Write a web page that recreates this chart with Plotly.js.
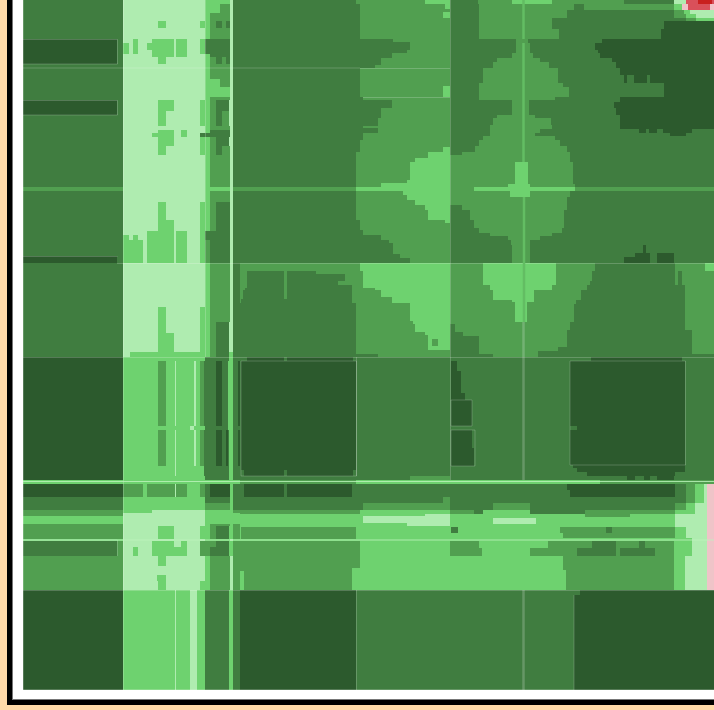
<!DOCTYPE html>
<html><head><meta charset="utf-8">
<script src="https://cdn.plot.ly/plotly-3.0.1.min.js"></script>
<style>
html,body{margin:0;padding:0;width:714px;height:710px;overflow:hidden;background:#ffdaa9}
#frame{position:absolute;left:12px;top:-20px;width:800px;height:720px;background:#fff;border:1px solid #777;box-sizing:border-box;box-shadow:-5px 5px 0 #000}
#plot{position:absolute;left:23px;top:0;width:691px;height:690px}
</style></head><body>
<div id="frame"></div><div id="plot"></div>
<script>
var levelColors = ["#2c5a2d","#407d40","#519f50","#6ed26f","#afecb0","#efc4c8","#d9505a","#c9201f"];

// Each band: bottom of the band, then "end of run : level" reading left to right.
var leftBands = [
[4,"123:1 205:4 230:3 233:4 240:1"],
[13,"123:1 205:4 220:3 230:2 233:4 240:1"],
[21,"123:1 205:4 210:3 230:2 233:4 240:1"],
[28,"123:1 158:4 166:3 200:4 210:3 216:2 222:1 226:2 230:1 233:4 240:1"],
[39,"123:1 205:4 210:3 230:2 233:4 240:1"],
[43,"117:0 123:1 133:4 138:3 152:4 174:3 176:4 187:3 200:4 205:3 230:1 233:4 240:1"],
[50,"117:0 123:1 129:3 133:4 138:3 147:4 174:3 176:4 187:3 200:4 205:3 230:1 233:4 240:1"],
[54,"117:0 123:1 129:3 133:4 138:3 152:4 174:3 176:4 187:3 200:4 205:3 230:1 233:4 240:1"],
[57,"117:0 123:1 152:4 174:3 176:4 187:3 205:4 210:3 230:1 233:4 240:1"],
[64,"117:0 123:1 158:4 166:3 205:4 210:3 216:2 222:1 226:2 230:1 233:4 240:1"],
[79,"123:1 205:4 210:3 230:2 233:4 240:1"],
[87,"123:1 205:4 220:3 230:2 233:4 240:1"],
[97,"123:1 205:4 230:3 233:4 240:1"],
[100,"123:1 205:4 210:3 230:2 233:4 240:1"],
[111,"117:0 123:1 158:4 174:3 200:4 210:3 216:2 229:1 233:4 240:1"],
[115,"117:0 123:1 158:4 166:3 200:4 210:3 216:2 222:1 229:2 233:4 240:1"],
[126,"123:1 158:4 166:3 200:4 210:3 216:2 222:1 229:2 233:4 240:1"],
[130,"123:1 205:4 210:3 230:2 233:4 240:1"],
[133,"123:1 158:4 174:3 181:4 187:3 205:4 210:3 230:1 233:4 240:1"],
[137,"123:1 152:4 174:3 181:4 187:3 200:4 210:1 230:1 233:4 240:1"],
[146,"123:1 158:4 174:3 200:4 210:3 216:2 229:1 233:4 240:1"],
[155,"123:1 158:4 166:3 200:4 210:3 216:2 222:1 230:2 233:4 240:1"],
[187,"123:1 205:4 210:3 230:2 233:4 240:1"],
[191,"123:2 205:4 230:3 233:4 240:2"],
[202,"123:1 205:4 210:3 230:2 233:4 240:1"],
[220,"123:1 158:4 166:3 200:4 210:3 216:2 230:1 233:4 240:1"],
[231,"123:1 158:4 174:3 200:4 210:3 216:2 230:1 233:4 240:1"],
[235,"123:1 147:4 174:3 176:4 187:3 200:4 205:3 230:1 233:4 240:1"],
[240,"123:1 129:3 133:4 138:3 147:4 174:3 176:4 187:3 200:4 205:3 230:1 233:4 240:1"],
[256,"123:1 143:3 147:4 174:3 176:4 187:3 200:4 205:3 210:2 230:1 233:4 240:1"],
[263,"117:0 123:1 143:3 147:4 174:3 176:4 187:3 200:4 205:3 210:2 230:1 233:4 240:1"],
[285,"123:1 205:4 210:3 230:2 233:4 240:1"],
[307,"123:1 205:4 210:3 230:2 233:4 240:1"],
[322,"123:1 158:4 166:3 200:4 210:3 230:2 233:4 240:1"],
[333,"123:1 158:4 166:3 200:4 210:3 216:2 229:1 233:4 240:1"],
[352,"123:1 158:4 174:3 200:4 210:3 216:2 229:1 233:4 240:1"],
[357,"123:1 130:4 205:3 210:3 216:2 229:1 233:3 240:1"],
[361,"123:0 205:3 229:1 233:3 240:1"],
[426,"123:0 158:3 166:2 175:3 176:4 194:3 196:4 200:3 204:2 216:1 222:0 228:1 233:3 238:1 240:0"],
[430,"123:0 190:3 194:4 205:3 216:1 228:1 233:3 240:1"],
[466,"123:0 158:3 166:2 175:3 176:4 194:3 196:4 200:3 204:2 216:1 222:0 226:1 228:0 229:1 233:3 238:1 240:0"],
[476,"123:0 175:3 176:4 190:3 196:3 204:3 229:1 233:3 240:1"],
[480,"123:0 205:3 229:1 233:3 240:1"],
[484,"205:3 240:3"],
[497,"123:0 143:2 147:3 175:2 176:4 187:2 200:3 205:2 210:1 230:0 233:3 240:1"],
[503,"123:1 205:3 210:1 230:1 233:3 240:1"],
[510,"123:1 205:3 230:2 233:3 240:1"],
[513,"123:2 152:3 205:4 230:3 233:3 240:2"],
[516,"123:2 205:4 230:3 233:3 240:3"],
[524,"123:3 205:4 230:3 233:3 240:3"],
[526,"123:2 205:4 210:3 230:2 233:3 240:2"],
[539,"123:2 158:4 174:3 200:4 210:3 216:2 229:1 233:3 240:2"],
[541,"123:3 205:4 230:3 233:4 240:3"],
[547,"117:1 123:2 133:4 138:4 152:4 174:3 176:4 181:4 187:3 200:4 210:2 216:2 229:1 233:3 240:2"],
[556,"117:1 123:2 133:4 138:3 152:4 174:3 176:3 187:3 200:4 210:2 216:1 229:1 233:3 240:2"],
[566,"123:2 158:4 166:3 205:4 210:3 230:2 233:4 240:2"],
[575,"123:2 205:4 210:3 230:2 233:4 240:2"],
[581,"123:2 157:4 166:3 205:4 210:3 230:2 233:4 240:2"],
[590,"123:2 158:4 166:3 200:4 205:3 210:3 230:2 233:4 240:2"],
[690,"123:0 175:3 176:4 190:3 197:4 205:3 229:1 233:3 240:1"]
];

var midBands = [
[4,"356:1 425:2 450:3 474:1"],
[9,"360:1 445:2 450:3 474:1"],
[12,"360:1 450:2 474:1"],
[18,"360:1 443:2 450:3 474:1"],
[39,"360:1 450:2 474:1"],
[42,"393:1 450:2 474:1"],
[50,"410:1 450:2 474:1"],
[53,"407:1 450:2 474:1"],
[58,"392:1 450:2 474:1"],
[65,"381:1 450:2 474:1"],
[68,"375:1 450:2 474:1"],
[86,"360:1 450:2 474:1"],
[97,"360:1 443:2 450:3 474:1"],
[100,"363:1 450:2 474:1"],
[108,"392:1 450:2 474:1"],
[118,"381:1 450:2 474:1"],
[126,"378:1 450:2 474:1"],
[128,"363:1 450:2 474:1"],
[133,"378:1 450:2 474:1"],
[140,"363:1 450:2 474:1"],
[147,"360:1 450:2 474:1"],
[152,"360:1 443:2 450:3 474:1"],
[155,"356:1 428:2 450:3 462:1 474:2"],
[158,"356:1 428:2 450:3 474:2"],
[162,"356:1 415:2 450:3 474:2"],
[180,"356:1 410:2 450:3 474:2"],
[183,"356:1 407:2 450:3 474:2"],
[187,"356:1 381:2 450:3 474:2"],
[191,"356:2 450:3 474:2"],
[195,"356:1 403:2 450:3 474:2"],
[200,"356:1 407:2 450:3 474:2"],
[205,"356:1 415:2 450:3 474:2"],
[210,"356:1 425:2 450:3 462:1 474:2"],
[220,"356:1 428:2 450:3 470:1 474:2"],
[223,"360:1 445:2 450:3 474:1"],
[230,"360:1 450:2 474:1"],
[235,"363:1 450:2 474:1"],
[240,"381:1 450:2 474:1"],
[243,"389:1 450:2 474:1"],
[254,"393:1 450:2 474:1"],
[258,"400:1 450:2 474:1"],
[263,"410:1 450:2 474:1"],
[271,"360:2 450:3 474:2"],
[274,"247:2 284:1 287:2 316:1 363:2 450:3 474:2"],
[281,"247:2 284:1 287:2 345:1 363:2 450:3 474:2"],
[285,"247:2 284:1 287:2 338:1 363:2 450:3 474:2"],
[288,"247:2 284:1 287:2 352:1 363:2 450:3 474:2"],
[290,"245:2 284:1 287:2 352:1 375:2 450:3 474:2"],
[297,"243:2 284:1 287:2 352:1 381:2 450:3 474:2"],
[299,"243:2 284:1 287:2 352:1 392:2 450:3 474:2"],
[303,"241:2 352:1 392:2 450:3 474:2"],
[321,"356:1 410:2 450:3 474:2"],
[324,"356:1 413:2 450:3 474:2"],
[332,"356:1 415:2 450:3 455:1 474:2"],
[335,"356:1 425:2 450:3 463:1 474:2"],
[336,"356:1 428:2 450:3 463:1 474:2"],
[339,"356:1 428:2 450:3 474:1"],
[346,"356:1 428:2 432:3 438:2 450:3 474:1"],
[350,"356:1 428:2 450:3 474:1"],
[354,"356:1 450:2 474:1"],
[357,"378:1 450:2 474:1"],
[361,"247:1 284:0 287:1 353:0 474:1"],
[371,"241:1 356:0 451:1 457:0 474:1"],
[393,"241:1 356:0 451:1 461:0 474:1"],
[400,"241:1 356:0 451:1 465:0 474:1"],
[426,"241:1 356:0 451:1 472:0 474:1"],
[430,"241:1 356:0 474:1"],
[448,"241:1 356:0 451:1 472:0 474:1"],
[466,"241:1 356:0 451:1 474:0"],
[470,"241:1 356:0 474:1"],
[476,"244:1 284:0 287:1 353:0 474:1"],
[480,"410:1 450:2 474:1"],
[484,"356:2 381:3 450:3 474:3"],
[497,"244:1 284:0 287:1 352:0 474:1"],
[503,"443:1 450:2 474:1"],
[510,"363:1 450:2 474:1"],
[514,"360:2 450:3 474:2"],
[516,"360:3 425:3 450:4 474:3"],
[523,"363:3 450:4 474:3"],
[526,"407:3 450:4 474:3"],
[527,"474:3"],
[533,"241:3 356:2 451:3 458:1 474:3"],
[539,"241:3 356:2 474:3"],
[541,"474:3"],
[556,"360:2 450:3 474:2"],
[568,"244:2 360:2 474:3"],
[571,"352:2 474:3"],
[590,"244:3 352:2 474:3"],
[690,"356:0 474:1"]
];

var rightBands = [
[4,"478:1 512:2 552:3 624:2 674:1 686:4 698:6 712:7 714:6"],
[10,"479:1 574:2 584:1 587:2 674:2 682:3 688:5 710:6 714:5"],
[14,"479:1 567:2 674:1 684:2 690:3 714:4"],
[18,"479:1 567:2 674:1 686:2 696:3 714:4"],
[21,"479:1 552:2 686:1 696:2 714:3"],
[29,"479:1 552:2 664:1 714:0"],
[39,"479:1 559:2 661:1 714:0"],
[43,"516:1 528:2 602:1 714:0"],
[50,"516:1 530:2 595:1 714:0"],
[53,"516:1 530:2 598:1 714:0"],
[58,"512:1 533:2 600:1 714:0"],
[62,"497:1 540:2 612:1 714:0"],
[68,"493:1 549:2 616:1 714:0"],
[75,"483:1 558:2 620:1 714:0"],
[83,"483:1 558:2 624:1 627:0 634:1 647:0 650:1 714:0"],
[87,"479:1 563:2 664:1 714:0"],
[97,"479:1 569:2 664:1 714:0"],
[100,"479:1 555:2 620:1 714:0"],
[102,"512:1 529:2 620:1 714:0"],
[108,"512:1 529:2 614:1 714:0"],
[115,"512:1 529:2 616:1 714:0"],
[118,"497:1 535:2 620:1 714:0"],
[125,"493:1 551:2 620:1 714:0"],
[129,"490:1 552:2 620:1 714:0"],
[133,"490:1 540:2 639:1 646:0 649:1 657:0 663:1 692:0 714:1"],
[136,"490:1 535:2 670:1 686:0 714:1"],
[140,"483:1 555:2 714:1"],
[146,"479:1 560:2 714:1"],
[152,"475:1 567:2 714:1"],
[162,"570:2 714:1"],
[184,"515:2 528:3 573:2 714:1"],
[187,"508:2 530:3 575:2 714:1"],
[191,"575:3 714:2"],
[197,"510:2 530:3 570:2 714:1"],
[210,"567:2 714:1"],
[228,"564:2 714:1"],
[233,"479:1 562:2 714:1"],
[236,"490:1 552:2 714:1"],
[240,"508:1 540:2 714:1"],
[245,"511:1 530:2 714:1"],
[253,"512:1 530:2 643:1 646:0 714:1"],
[257,"512:1 530:2 635:1 650:0 657:1 674:0 714:1"],
[263,"512:1 530:2 624:1 650:0 657:1 674:0 714:1"],
[271,"483:2 556:3 595:2 675:1 705:2 714:3"],
[281,"483:2 556:3 592:2 675:1 678:2 682:1 714:2"],
[285,"483:2 556:3 590:2 675:1 678:2 682:1 714:2"],
[290,"490:2 552:3 587:2 685:1 714:2"],
[300,"493:2 534:3 581:2 685:1 714:2"],
[302,"512:2 534:3 576:2 685:1 714:2"],
[304,"515:2 527:3 576:2 685:1 714:2"],
[322,"515:2 527:3 574:2 685:1 714:2"],
[330,"570:2 685:1 714:2"],
[336,"567:2 692:1 714:2"],
[347,"479:1 567:2 692:1 714:2"],
[351,"479:1 558:2 692:1 714:2"],
[354,"479:1 538:2 692:1 714:2"],
[357,"493:1 538:2 714:1"],
[361,"591:1 682:0 714:1"],
[426,"570:1 685:0 714:1"],
[430,"577:1 685:0 714:1"],
[465,"570:1 685:0 714:1"],
[468,"573:1 685:0 714:1"],
[472,"577:1 685:0 714:1"],
[476,"587:1 675:0 714:1"],
[480,"627:1 635:0 644:1 650:0 657:1 674:0 714:1"],
[484,"600:3 714:2"],
[490,"567:1 675:0 686:1 695:2 704:3 707:4 714:5"],
[497,"570:1 675:0 686:1 695:2 704:3 707:4 714:5"],
[503,"686:1 695:2 704:3 707:4 714:5"],
[510,"493:1 530:2 675:1 686:2 695:3 707:4 714:5"],
[514,"483:1 530:3 585:1 675:2 695:3 707:4 714:5"],
[517,"585:3 630:2 675:3 707:4 714:5"],
[518,"675:3 707:4 714:5"],
[524,"493:3 536:4 675:3 707:4 714:5"],
[527,"675:3 707:4 714:5"],
[533,"560:3 606:2 612:1 675:2 686:3 707:4 714:5"],
[538,"563:3 675:2 686:3 707:4 714:5"],
[541,"692:3 707:4 714:5"],
[548,"479:2 548:3 592:2 616:1 639:2 645:1 674:2 692:3 707:4 714:5"],
[556,"482:2 530:3 577:2 616:1 620:2 655:1 674:2 692:3 707:4 714:5"],
[570,"563:3 674:2 685:3 707:4 714:5"],
[590,"566:3 674:2 685:3 707:4 714:5"],
[595,"580:1 714:0"],
[690,"574:1 714:0"]
];

// Thin pale seams that run along the borders of the regions (null breaks a seam).
var seamX = [23.5,23.5,null,123.5,123.5,null,450.5,450.5,null,205.5,205.5,null,
 23,117.5,117.5,23,null,23,117.5,117.5,23,null,23,117.5,null,117,714,null,23,714,null,23,714,null,23,714,null,
 241,241,356.5,356.5,241,null,570,570,685.5,685.5,570,null,356.5,356.5,null,
 360,450,null,363,450,null,356.5,356.5,null,574,574,null,23,117.5,117.5,null,23,360,null,451,472,472,451,451,null,451,475,475,451,451];
var seamY = [0,690,null,0,690,null,0,480,null,0,357,null,
 39.5,39.5,64,64,null,100.5,100.5,115,115,null,256.5,256.5,null,263.5,263.5,null,357.5,357.5,null,590.5,590.5,null,689.5,689.5,null,
 361,476,476,361,361,null,361,465,465,361,361,null,357,476,null,
 68.5,68.5,null,97.5,97.5,null,590,690,null,595,690,null,540,540,556,null,68,68,null,400,400,426,426,400,null,430,430,466,466,430];
var stemX = [523.5,523.5,null,523.5,523.5,null,524,524];
var stemY = [0,39,null,43,162,null,197,322];
var stemFaintX = [523.5,523.5,null,523.5,523.5];
var stemFaintY = [322,480,null,590,690];
var glowX = [23,714,null,23,714];
var glowY = [481.5,481.5,null,540,540];

function panelTrace(bands, x0){
  var stops = {}; stops[x0] = 1;
  var rows = bands.map(function(b){
    return b[1].split(" ").map(function(r){var p=r.split(":");stops[+p[0]]=1;return [+p[0],+p[1]];});
  });
  var xe = Object.keys(stops).map(Number).sort(function(a,b){return a-b;});
  var ye = [0].concat(bands.map(function(b){return b[0];}));
  var z = rows.map(function(runs){
    var out = [], k = 0;
    for (var i=0;i<xe.length-1;i++){
      while (runs[k][0] <= xe[i]) k++;
      out.push(runs[k][1]);
    }
    return out;
  });
  var n = levelColors.length, cs = [];
  levelColors.forEach(function(c,i){cs.push([i/n,c]);cs.push([(i+1)/n,c]);});
  return {type:"heatmap",x:xe,y:ye,z:z,zmin:0,zmax:n,colorscale:cs,showscale:false,hoverinfo:"skip"};
}
function lineTrace(x,y,color,w){
  return {type:"scatter",mode:"lines",x:x,y:y,line:{color:color,width:w},hoverinfo:"skip",showlegend:false};
}
Plotly.newPlot("plot",[
  panelTrace(leftBands,23),
  panelTrace(midBands,240),
  panelTrace(rightBands,474),
  lineTrace(seamX,seamY,"rgba(255,255,255,0.2)",1),
  lineTrace(stemX,stemY,"#63bd63",2.5),
  lineTrace(stemFaintX,stemFaintY,"rgba(255,255,255,0.2)",2.5),
  lineTrace(glowX,glowY,"rgba(190,245,190,0.8)",1.2)
],{
  width:691,height:690,margin:{l:0,r:0,t:0,b:0},
  paper_bgcolor:"rgba(0,0,0,0)",plot_bgcolor:"rgba(0,0,0,0)",showlegend:false,
  xaxis:{range:[23,714],visible:false,fixedrange:true},
  yaxis:{range:[690,0],visible:false,fixedrange:true}
},{displayModeBar:false,staticPlot:true});
</script>
</body></html>
